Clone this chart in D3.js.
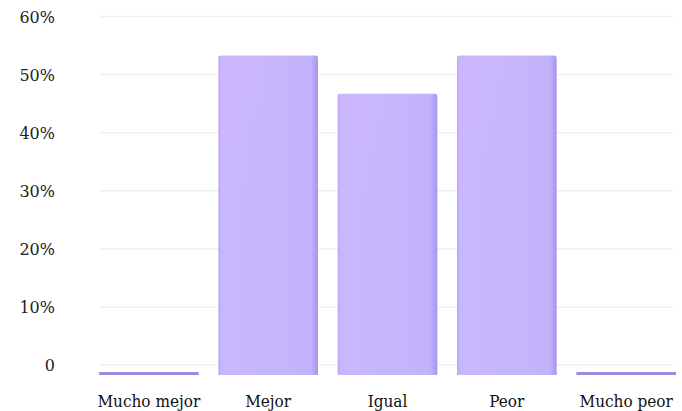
<!DOCTYPE html>
<html>
<head>
<meta charset="utf-8">
<script src="https://cdn.jsdelivr.net/npm/d3@7/dist/d3.min.js"></script>
<style>
  html, body { margin: 0; padding: 0; background: #ffffff; }
  svg { display: block; }
</style>
</head>
<body>
<svg id="chart" width="682" height="411"></svg>
<script>
// Survey answers and the share of respondents (%) for each
const categories = ["Mucho mejor", "Mejor", "Igual", "Peor", "Mucho peor"];
const shares = [0, 53.3, 46.7, 53.3, 0];
const yTicks = [0, 10, 20, 30, 40, 50, 60];
const yTickLabels = ["0", "10%", "20%", "30%", "40%", "50%", "60%"];

const width = 682, height = 411;
const svg = d3.select("#chart");

const x = d3.scaleBand()
  .domain(categories)
  .range([99, 676])
  .paddingInner(0.165)
  .paddingOuter(0);

const y = d3.scaleLinear()
  .domain([0, 60])
  .range([365, 16.5]);

// bars sit slightly below the zero line; empty answers show as a thin strip
const baseDrop = 10;
const minStrip = 3;

const defs = svg.append("defs");
const grad = defs.append("linearGradient")
  .attr("id", "barFill").attr("x1", "0").attr("x2", "1").attr("y1", "0").attr("y2", "0");
grad.append("stop").attr("offset", "0").attr("stop-color", "#b8a6f6");
grad.append("stop").attr("offset", "0.03").attr("stop-color", "#c9b7fc");
grad.append("stop").attr("offset", "0.5").attr("stop-color", "#c6b6fc");
grad.append("stop").attr("offset", "0.93").attr("stop-color", "#c2b2fa");
grad.append("stop").attr("offset", "1").attr("stop-color", "#a694ee");

const sheen = defs.append("linearGradient")
  .attr("id", "barSheen").attr("x1", "0").attr("x2", "0.6").attr("y1", "0").attr("y2", "1");
sheen.append("stop").attr("offset", "0").attr("stop-color", "#e0b8ff").attr("stop-opacity", 0.18);
sheen.append("stop").attr("offset", "0.45").attr("stop-color", "#e0b8ff").attr("stop-opacity", 0);

// horizontal grid
svg.append("g")
  .selectAll("line")
  .data(yTicks)
  .join("line")
  .attr("x1", 100).attr("x2", 673)
  .attr("y1", d => y(d)).attr("y2", d => y(d))
  .attr("stroke", "#f0f0f0")
  .attr("stroke-width", 1.5);

// y tick labels
svg.append("g")
  .selectAll("text")
  .data(yTicks)
  .join("text")
  .attr("x", 55)
  .attr("y", (d, i) => y(d) + 1.5)
  .attr("text-anchor", "end")
  .attr("dominant-baseline", "middle")
  .attr("font-family", "'DejaVu Serif', serif")
  .attr("font-size", 16)
  .attr("fill", "#222")
  .text((d, i) => yTickLabels[i]);

// bars
const bars = svg.append("g");
const data = categories.map((c, i) => ({ c, v: shares[i] }));
bars.selectAll("path.bar")
  .data(data)
  .join("path")
  .attr("class", "bar")
  .attr("d", d => {
    const x0 = x(d.c), w = x.bandwidth();
    const bottom = y(0) + baseDrop;
    if (d.v <= 0) {
      const t = bottom - minStrip;
      return `M${x0},${t}H${x0 + w}V${bottom}H${x0}Z`;
    }
    const t = y(d.v), r = 2.5;
    return `M${x0},${bottom}V${t + r}Q${x0},${t} ${x0 + r},${t}H${x0 + w - r}Q${x0 + w},${t} ${x0 + w},${t + r}V${bottom}Z`;
  })
  .attr("fill", d => d.v <= 0 ? "#9d8be2" : "url(#barFill)");

bars.selectAll("rect.sheen")
  .data(data.filter(d => d.v > 0))
  .join("rect")
  .attr("class", "sheen")
  .attr("x", d => x(d.c) + 1)
  .attr("y", d => y(d.v) + 1)
  .attr("width", x.bandwidth() - 2)
  .attr("height", d => y(0) + baseDrop - y(d.v) - 1)
  .attr("fill", "url(#barSheen)");

// category labels
svg.append("g")
  .selectAll("text")
  .data(categories)
  .join("text")
  .attr("x", d => x(d) + x.bandwidth() / 2)
  .attr("y", 407)
  .attr("text-anchor", "middle")
  .attr("font-family", "'DejaVu Serif Condensed', 'DejaVu Serif', serif")
  .attr("font-size", 17)
  .attr("fill", "#111")
  .text(d => d);
</script>
</body>
</html>
